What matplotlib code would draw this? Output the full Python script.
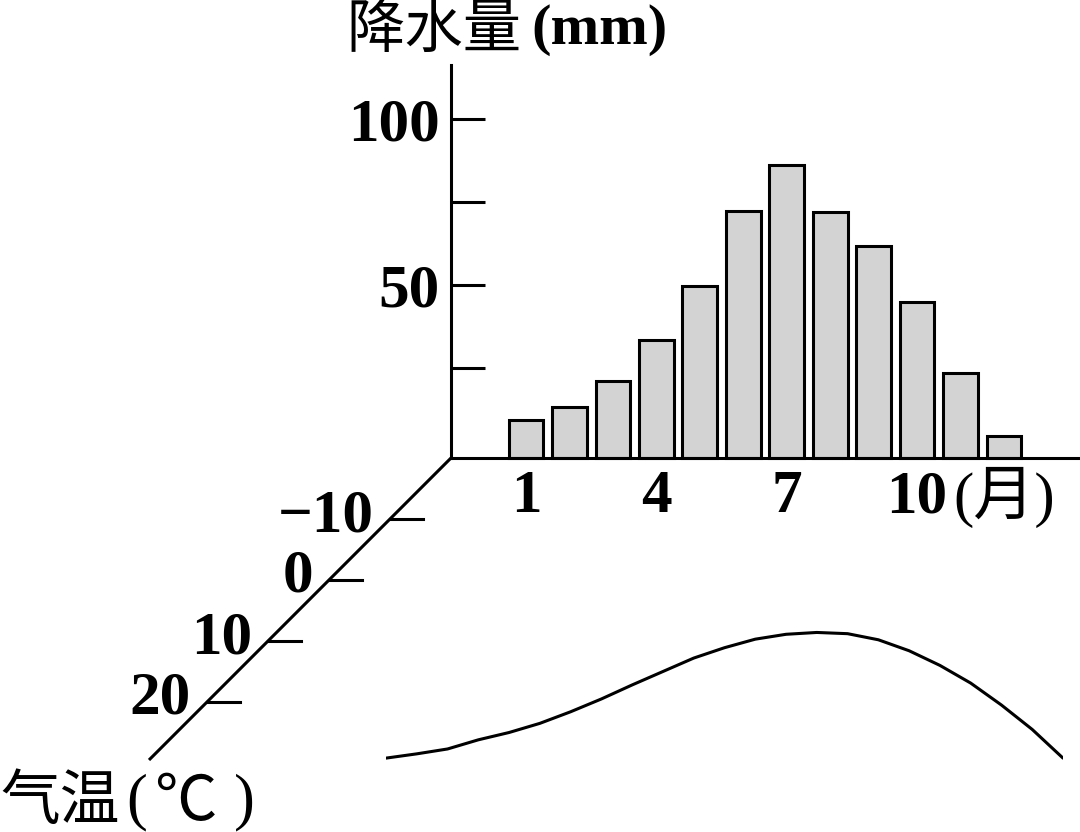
import matplotlib
matplotlib.use('Agg')
import matplotlib.pyplot as plt

# ---------------- data ----------------
months = list(range(1, 13))
precip = [9.2, 13.1, 21.1, 33.4, 49.7, 72.3, 86.2, 72.0, 61.8, 44.8, 23.4, 4.4]
precip_ticks = [25, 50, 75, 100]
precip_ticklabels = ['', '50', '', '100']
month_ticks = [1, 4, 7, 10]
month_ticklabels = ['1', '4', '7', '10']
temp_ticks = [-10, 0, 10, 20]
temp_month = [1, 1.5, 2, 2.5, 3, 3.5, 4, 4.5, 5, 5.5, 6, 6.5,
              7, 7.5, 8, 8.5, 9, 9.5, 10, 10.5, 11, 11.5, 12]
temp_curve = [29.2, 28.5, 27.7, 26.2, 25.0, 23.5, 21.6, 19.5, 17.2, 15.0, 12.8, 11.1,
              9.7, 8.9, 8.6, 8.8, 9.8, 11.6, 14.0, 16.9, 20.5, 24.5, 29.2]

# ---------------- layout ----------------
W, H = 1080, 832
plt.rcParams['font.family'] = ['Liberation Serif', 'Noto Sans CJK SC', 'DejaVu Sans']
plt.rcParams['font.weight'] = 'bold'
CJK = ['Noto Sans CJK SC', 'DejaVu Sans']
LW = 2.2
FS = 44

fig = plt.figure(figsize=(W / 100, H / 100), dpi=100)


def rect(l, t, r, b):
    return [l / W, 1 - b / H, (r - l) / W, (b - t) / H]


# overlay in pixel coordinates for the oblique temperature axis
axo = fig.add_axes([0, 0, 1, 1])
axo.set_xlim(0, W)
axo.set_ylim(H, 0)
axo.axis('off')

# ---- precipitation bar chart ----
axb = fig.add_axes(rect(451, 65, 1080, 458))
P0, PS = 450.4, 3.31
ylo, yhi = -(458 - P0) / PS, (P0 - 65) / PS
M1, MS = 526, 43.45
axb.set_xlim(1 - (M1 - 451) / MS, 1 + (1080 - M1) / MS)
axb.set_ylim(ylo, yhi)
axb.patch.set_alpha(0)
bars = axb.bar(months, [v - ylo for v in precip], bottom=ylo, width=0.8,
               color='#d3d3d3', edgecolor='black', linewidth=LW, zorder=2)
for b in bars:
    b.set_clip_on(False)
for s in ['top', 'right']:
    axb.spines[s].set_visible(False)
for s in ['left', 'bottom']:
    axb.spines[s].set_linewidth(LW)
    axb.spines[s].set_zorder(3)
axb.set_yticks(precip_ticks)
axb.set_yticklabels(precip_ticklabels)
axb.tick_params(axis='y', direction='in', length=24.5, width=LW, pad=8, labelsize=FS)
axb.set_xticks(month_ticks)
axb.set_xticklabels(month_ticklabels)
axb.tick_params(axis='x', length=0, pad=8, labelsize=FS)

fig.text(953 / W, 1 - 497 / H, '(月)', ha='left', va='center', fontsize=FS,
         family=['Liberation Serif', 'Noto Sans CJK SC'], fontweight='normal')

# title
fig.text(346 / W, 1 - 30 / H, '降水量', ha='left', va='center', fontsize=42,
         family=CJK, fontweight='medium')
fig.text(531 / W, 1 - 30 / H, '(mm)', ha='left', va='center', fontsize=42,
         family=['Liberation Serif'], fontweight='bold')

# ---- temperature curve ----
T0, TS = 580, 6.1
tlo, thi = -15, 35
axt = fig.add_axes(rect(386, T0 + TS * tlo, 1063, T0 + TS * thi))
axt.set_xlim(1, 12)
axt.set_ylim(thi, tlo)
axt.axis('off')
axt.plot(temp_month, temp_curve, color='black', lw=LW,
         solid_capstyle='round', solid_joinstyle='round')

# oblique temperature axis
axo.plot([451, 149], [458, 760], color='black', lw=LW, solid_capstyle='butt')
fig.canvas.draw()
for t in temp_ticks:
    yp = H - axt.transData.transform((1, t))[1]
    xd = 451 - (yp - 458)
    axo.plot([xd, xd + 33], [yp, yp], color='black', lw=LW)
    lab = str(t).replace('-', '\u2212')
    axo.text(xd - 16, yp - 3, lab, ha='right', va='center', fontsize=FS)

fig.text(0 / W, 1 - 802 / H, '气温', ha='left', va='center', fontsize=43,
         family=CJK, fontweight='normal')
fig.text(126 / W, 1 - 802 / H, '(', ha='left', va='center', fontsize=45,
         family=['Liberation Serif'], fontweight='normal')
fig.text(154 / W, 1 - 802 / H, '℃', ha='left', va='center', fontsize=45,
         family=CJK, fontweight='normal')
fig.text(234 / W, 1 - 802 / H, ')', ha='left', va='center', fontsize=45,
         family=['Liberation Serif'], fontweight='normal')

fig.savefig('out.png', dpi=100)
